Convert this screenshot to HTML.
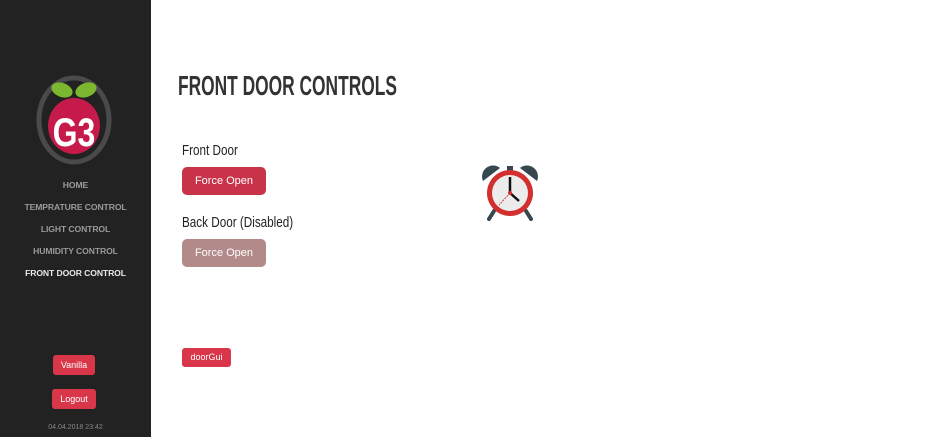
<!DOCTYPE html>
<html><head><meta charset="utf-8"><style>
*{margin:0;padding:0;box-sizing:border-box}
body{width:944px;height:437px;background:#fff;font-family:"Liberation Sans",sans-serif;position:relative;overflow:hidden}
#side{position:absolute;left:0;top:0;width:151px;height:437px;background:#222}
.nav{position:absolute;left:0;width:151px;text-align:center;font-size:8.6px;font-weight:bold;color:#9a9a9a;letter-spacing:-0.1px}
.btn{position:absolute;background:#d9364a;color:#fff;border-radius:3px;text-align:center;font-size:9px}
.t{position:absolute;color:#222;transform-origin:0 0;white-space:nowrap}
</style></head><body>
<div id="side">
<svg style="position:absolute;left:35px;top:74px" width="78" height="92">
<ellipse cx="39" cy="46" rx="35" ry="42" fill="#222" stroke="#4a4a4a" stroke-width="5"/>
<ellipse cx="27" cy="16" rx="11" ry="7" fill="#7cb82f" transform="rotate(20 27 16)"/>
<ellipse cx="51" cy="16" rx="11" ry="7" fill="#7cb82f" transform="rotate(-20 51 16)"/>
<ellipse cx="39" cy="52" rx="26" ry="28" fill="#c51a4a"/>
<text x="39" y="72" text-anchor="middle" font-weight="bold" font-size="40" fill="#fff" transform="translate(39 0) scale(0.8 1) translate(-39 0)">G3</text>
</svg>
<div class="nav" style="top:180px">HOME</div>
<div class="nav" style="top:202px">TEMPRATURE CONTROL</div>
<div class="nav" style="top:224px">LIGHT CONTROL</div>
<div class="nav" style="top:246px">HUMIDITY CONTROL</div>
<div class="nav" style="top:268px;color:#e8e8e8">FRONT DOOR CONTROL</div>
<div class="btn" style="left:53px;top:355px;width:42px;height:20px;line-height:20px">Vanilla</div>
<div class="btn" style="left:52px;top:389px;width:44px;height:20px;line-height:20px">Logout</div>
<div style="position:absolute;left:0;width:151px;top:424px;text-align:center;font-size:7px;color:#888">04.04.2018 23:42</div>
</div>
<div class="t" style="left:178px;top:70px;font-size:28px;font-weight:bold;color:#333;transform:scaleX(0.62)">FRONT DOOR CONTROLS</div>
<div class="t" style="left:182px;top:142px;font-size:15px;transform:scaleX(0.78)">Front Door</div>
<div class="btn" style="left:182px;top:167px;width:84px;height:28px;line-height:28px;font-size:11px;background:#c8334a;border-radius:5px">Force Open</div>
<div class="t" style="left:182px;top:214px;font-size:15px;transform:scaleX(0.78)">Back Door (Disabled)</div>
<div class="btn" style="left:182px;top:239px;width:84px;height:28px;line-height:28px;font-size:11px;background:#b28a8a;border-radius:5px">Force Open</div>
<div class="btn" style="left:182px;top:348px;width:49px;height:19px;line-height:19px;font-size:9px">doorGui</div>
<svg style="position:absolute;left:480px;top:163px" width="60" height="58">
<path d="M3 18 A11 11 0 0 1 20 5 Z" fill="#37474f"/>
<path d="M57 18 A11 11 0 0 0 40 5 Z" fill="#37474f"/>
<line x1="14" y1="48" x2="9" y2="56" stroke="#37474f" stroke-width="4" stroke-linecap="round"/>
<line x1="46" y1="48" x2="51" y2="56" stroke="#37474f" stroke-width="4" stroke-linecap="round"/>
<rect x="27" y="3" width="6" height="5" fill="#37474f"/>
<circle cx="30" cy="30" r="23" fill="#d32f2f"/>
<circle cx="30" cy="30" r="18" fill="#ececec"/>
<line x1="30" y1="30" x2="30" y2="14" stroke="#111" stroke-width="2.5"/>
<line x1="30" y1="30" x2="39" y2="38" stroke="#111" stroke-width="2.5"/>
<line x1="30" y1="30" x2="19" y2="42" stroke="#e53935" stroke-width="1" stroke-dasharray="2 1"/>
<circle cx="30" cy="30" r="2" fill="#d32f2f"/>
</svg>
</body></html>
